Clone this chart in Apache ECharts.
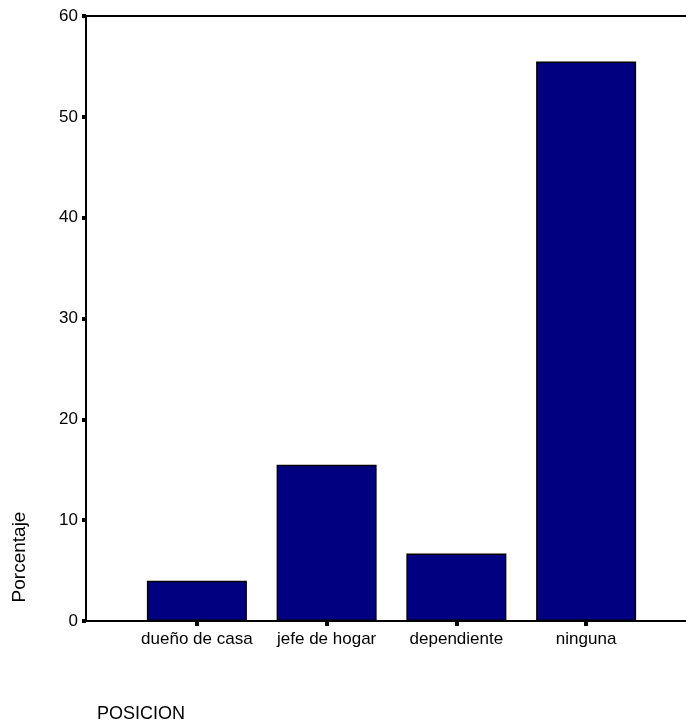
<!DOCTYPE html>
<html><head><meta charset="utf-8">
<script src="https://cdn.jsdelivr.net/npm/echarts@6/dist/echarts.min.js"></script>
<style>html,body{margin:0;padding:0;background:#fff}#c{width:686px;height:725px}</style>
</head><body><div id="c"></div>
<script>
var categories = ['dueño de casa', 'jefe de hogar', 'dependiente', 'ninguna'];
var values = [4.0, 15.5, 6.7, 55.5];
var yTicks = [0, 10, 20, 30, 40, 50, 60];
var yLabel = 'Porcentaje';
var xLabel = 'POSICION';

var chart = echarts.init(document.getElementById('c'));
var font = 'Liberation Sans, Arial, sans-serif';
chart.setOption({
  animation: false,
  backgroundColor: '#fff',
  title: { text: xLabel, left: 92, top: 700, textStyle: { fontFamily: font, fontSize: 18, fontWeight: 'normal', color: '#000' } },
  graphic: [{ type: 'text', x: 20, y: 557, rotation: Math.PI / 2,
    style: { text: yLabel, font: '19px ' + font, fill: '#000', align: 'center', verticalAlign: 'middle' } }],
  grid: [
    { left: 86, right: 0, top: 16, bottom: 104 },
    { left: 132, right: 35, top: 16, bottom: 104 }
  ],
  xAxis: [
    { gridIndex: 0, type: 'category', data: categories, position: 'bottom',
      axisLine: { lineStyle: { color: '#000', width: 2 } }, axisTick: { show: false }, axisLabel: { show: false } },
    { gridIndex: 0, type: 'category', data: categories, position: 'top',
      axisLine: { lineStyle: { color: '#000', width: 2 } }, axisTick: { show: false }, axisLabel: { show: false } },
    { gridIndex: 1, type: 'category', data: categories, position: 'bottom',
      axisLine: { show: true, lineStyle: { color: 'rgba(0,0,0,0)', width: 0 } },
      axisTick: { show: true, alignWithLabel: true, length: 5, lineStyle: { color: '#000', width: 4 } },
      axisLabel: { interval: 0, margin: 10, fontFamily: font, fontSize: 17, color: '#000' } }
  ],
  yAxis: [
    { gridIndex: 0, type: 'value', min: yTicks[0], max: yTicks[yTicks.length - 1], interval: 10,
      axisLine: { show: true, lineStyle: { color: '#000', width: 2 } },
      axisTick: { show: true, length: 4, lineStyle: { color: '#000', width: 4 } },
      axisLabel: { margin: 8, fontFamily: font, fontSize: 17, color: '#000' },
      splitLine: { show: false } },
    { gridIndex: 1, type: 'value', min: yTicks[0], max: yTicks[yTicks.length - 1], interval: 10, show: false, splitLine: { show: false } }
  ],
  series: [{
    type: 'bar', xAxisIndex: 2, yAxisIndex: 1, data: values, barWidth: 100,
    itemStyle: { color: '#000080', borderColor: '#000', borderWidth: 1.5 }
  }]
});
</script></body></html>
